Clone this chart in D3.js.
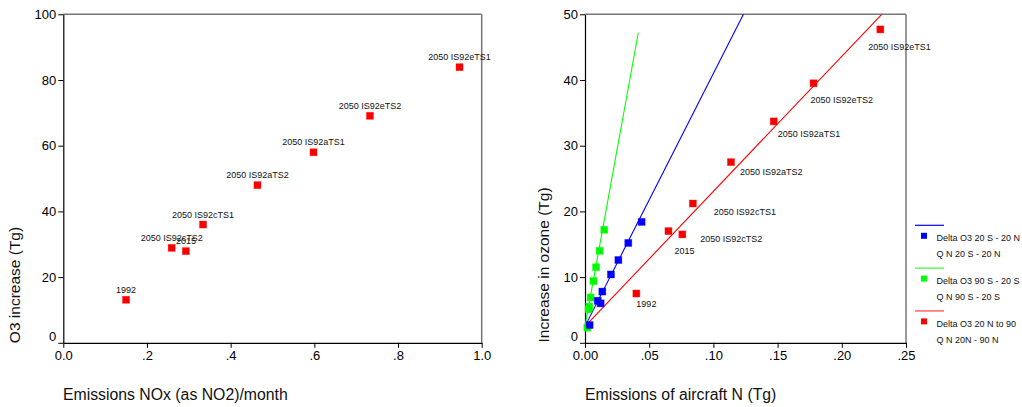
<!DOCTYPE html>
<html><head><meta charset="utf-8">
<script src="https://cdn.jsdelivr.net/npm/d3@7"></script>
<style>
body{margin:0;background:#fff;}
svg{display:block;font-family:"Liberation Sans",Arial,sans-serif;}
</style></head>
<body>
<svg id="c" width="1022" height="407"></svg>
<script>
// ---------- DATA ----------
// Left panel: O3 increase vs NOx emissions
const leftLabels = ["1992","2050 IS92cTS2","2015","2050 IS92cTS1","2050 IS92aTS2","2050 IS92aTS1","2050 IS92eTS2","2050 IS92eTS1"];
const leftX = [0.15, 0.259, 0.293, 0.334, 0.464, 0.598, 0.733, 0.947];
const leftY = [13.1, 28.9, 27.9, 36.0, 48.0, 58.0, 69.1, 83.9];
const leftXTicks = [0, 0.2, 0.4, 0.6, 0.8, 1.0];
const leftXTickLabels = ["0.0", ".2", ".4", ".6", ".8", "1.0"];
const leftYTicks = [0, 20, 40, 60, 80, 100];

// Right panel: increase in ozone vs aircraft N emissions
const blueX = [0.0036, 0.0099, 0.0122, 0.0135, 0.0202, 0.026, 0.0337, 0.0441];
const blueY = [2.7, 6.4, 6.0, 7.8, 10.4, 12.6, 15.2, 18.4];
const greenX = [0.0018, 0.0028, 0.0033, 0.0044, 0.0066, 0.0086, 0.0114, 0.015];
const greenY = [2.3, 5.1, 5.5, 6.9, 9.4, 11.5, 14.0, 17.2];
const redLabels = ["1992","2015","2050 IS92cTS2","2050 IS92cTS1","2050 IS92aTS2","2050 IS92aTS1","2050 IS92eTS2","2050 IS92eTS1"];
const redX = [0.040, 0.065, 0.0758, 0.084, 0.1137, 0.147, 0.178, 0.230];
const redY = [7.5, 17.0, 16.5, 21.2, 27.5, 33.7, 39.5, 47.7];
// fit lines: intercept, slope, x-range
const fitSeries = ["blue", "green", "red"];
const fitIntercept = [2.5, 2.5, 2.5];
const fitSlope = [385, 1077, 205.5];
const fitXEnd = [0.1234, 0.0415, 0.2311];
const rightXTicks = [0, 0.05, 0.10, 0.15, 0.20, 0.25];
const rightXTickLabels = ["0.00", ".05", ".10", ".15", ".20", ".25"];
const rightYTicks = [0, 10, 20, 30, 40, 50];
const legendLines1 = ["Delta O3 20 S - 20 N", "Delta O3 90 S - 20 S", "Delta O3 20 N to 90"];
const legendLines2 = ["Q N 20 S - 20 N", "Q N 90 S - 20 S", "Q N 20N - 90 N"];

// ---------- LAYOUT ----------
const colors = {blue: "#0000ff", green: "#00ff00", red: "#ff0000"};
const legendLineColors = {blue: "#0000ff", green: "#33ff33", red: "#ff7f7f"};
// label offsets for right panel red labels (px from point: left x, text center y)
const redLabelDx = [0, 6, 18, 21, 9, 4, -3, -12];
const redLabelDy = [10, 20, 4, 8, 10, 12, 17, 17];

const svg = d3.select("#c");
const plotTop = 14.3, plotBottom = 342.8;

function marker(g, x, y, color) {
  const s = 7;
  g.append("rect").attr("x", x - s/2).attr("y", y - s/2).attr("width", s).attr("height", s)
    .attr("fill", color).attr("stroke", color).attr("stroke-opacity", 0.45).attr("stroke-width", 0.8);
  g.append("line").attr("x1", x - s/2 + 1).attr("y1", y - s/2 + 1).attr("x2", x + s/2 - 1).attr("y2", y + s/2 - 1)
    .attr("stroke", "#000").attr("stroke-opacity", 0.25).attr("stroke-width", 0.7);
}

function frame(g, x0, x1) {
  g.append("line").attr("x1", x0).attr("x2", x1).attr("y1", plotTop).attr("y2", plotTop)
    .attr("stroke", "#777").attr("stroke-width", 1.5);
  g.append("line").attr("x1", x1).attr("x2", x1).attr("y1", plotTop).attr("y2", plotBottom)
    .attr("stroke", "#777").attr("stroke-width", 1.5);
}

function styleAxis(sel) {
  sel.selectAll("path.domain").attr("stroke", "#000").attr("stroke-width", 1.2);
  sel.selectAll(".tick line").attr("stroke", "#000");
  sel.selectAll(".tick text").attr("font-size", 13).attr("fill", "#000")
    .attr("font-family", '"Liberation Sans",Arial,sans-serif');
}

// ---------- LEFT PANEL ----------
{
  const xs = d3.scaleLinear().domain([0, 1]).range([63.3, 481.7]);
  const ys = d3.scaleLinear().domain([0, 100]).range([plotBottom, plotTop]);
  const g = svg.append("g");
  frame(g, xs(0), xs(1));
  const ax = g.append("g").attr("transform", `translate(0,${plotBottom})`)
    .call(d3.axisBottom(xs).tickValues(leftXTicks).tickSize(5).tickSizeOuter(0).tickPadding(3)
      .tickFormat((d, i) => leftXTickLabels[i]));
  styleAxis(ax);
  const ay = g.append("g").attr("transform", `translate(${xs(0)},0)`)
    .call(d3.axisLeft(ys).tickValues(leftYTicks).tickSize(5).tickSizeOuter(0).tickPadding(2));
  styleAxis(ay);
  ay.selectAll(".tick text").filter(d => d === 0).attr("dy", "-0.15em");

  leftX.forEach((x, i) => {
    marker(g, xs(x), ys(leftY[i]), colors.red);
  });
  leftX.forEach((x, i) => {
    g.append("text").attr("x", xs(x)).attr("y", ys(leftY[i]) - 7).attr("text-anchor", "middle")
      .attr("font-size", 9).attr("fill", "#111").text(leftLabels[i]);
  });

  g.append("text").attr("transform", `translate(20,285) rotate(-90)`).attr("text-anchor", "middle")
    .attr("font-size", 15.5).attr("fill", "#111").text("O3 increase (Tg)");
  g.append("text").attr("x", 63).attr("y", 400).attr("font-size", 15.8).attr("fill", "#111")
    .text("Emissions NOx (as NO2)/month");
}

// ---------- RIGHT PANEL ----------
{
  const xs = d3.scaleLinear().domain([0, 0.25]).range([585, 906]);
  const ys = d3.scaleLinear().domain([0, 50]).range([plotBottom, plotTop]);
  const g = svg.append("g");
  frame(g, xs(0), xs(0.25));
  const ax = g.append("g").attr("transform", `translate(0,${plotBottom})`)
    .call(d3.axisBottom(xs).tickValues(rightXTicks).tickSize(5).tickSizeOuter(0).tickPadding(3)
      .tickFormat((d, i) => rightXTickLabels[i]));
  styleAxis(ax);
  const ay = g.append("g").attr("transform", `translate(${xs(0)},0)`)
    .call(d3.axisLeft(ys).tickValues(rightYTicks).tickSize(5).tickSizeOuter(0).tickPadding(2));
  styleAxis(ay);
  ay.selectAll(".tick text").filter(d => d === 0).attr("dy", "-0.15em");

  // fit lines
  const line = d3.line().x(d => xs(d[0])).y(d => ys(d[1]));
  fitSeries.forEach((s, i) => {
    const pts = [[0, fitIntercept[i]], [fitXEnd[i], fitIntercept[i] + fitSlope[i] * fitXEnd[i]]];
    g.append("path").attr("d", line(pts)).attr("fill", "none").attr("stroke", colors[s]).attr("stroke-width", 1.1);
  });

  greenX.forEach((x, i) => marker(g, xs(x), ys(greenY[i]), colors.green));
  blueX.forEach((x, i) => marker(g, xs(x), ys(blueY[i]), colors.blue));
  redX.forEach((x, i) => marker(g, xs(x), ys(redY[i]), colors.red));
  redX.forEach((x, i) => {
    g.append("text").attr("x", xs(x) + redLabelDx[i]).attr("y", ys(redY[i]) + redLabelDy[i] + 3.2)
      .attr("font-size", 9).attr("fill", "#111").text(redLabels[i]);
  });

  g.append("text").attr("transform", `translate(549,265) rotate(-90)`).attr("text-anchor", "middle")
    .attr("font-size", 15.5).attr("fill", "#111").text("Increase in ozone (Tg)");
  g.append("text").attr("x", 585).attr("y", 400).attr("font-size", 15.8).attr("fill", "#111")
    .text("Emissions of aircraft N (Tg)");

  // legend
  const lg = svg.append("g");
  fitSeries.forEach((s, i) => {
    const y0 = 225.3 + i * 42.8;
    lg.append("line").attr("x1", 915).attr("x2", 944).attr("y1", y0).attr("y2", y0)
      .attr("stroke", legendLineColors[s]).attr("stroke-width", s === "red" ? 1.8 : 1.2);
    const sq = 6;
    lg.append("rect").attr("x", 924 - sq/2).attr("y", y0 + 10.5 - sq/2).attr("width", sq).attr("height", sq)
      .attr("fill", colors[s]);
    lg.append("text").attr("x", 936.5).attr("y", y0 + 12.7 + 3.2).attr("font-size", 9).attr("fill", "#111")
      .text(legendLines1[i]);
    lg.append("text").attr("x", 936.5).attr("y", y0 + 28.7 + 3.2).attr("font-size", 9).attr("fill", "#111")
      .text(legendLines2[i]);
  });
}
</script>
</body></html>
